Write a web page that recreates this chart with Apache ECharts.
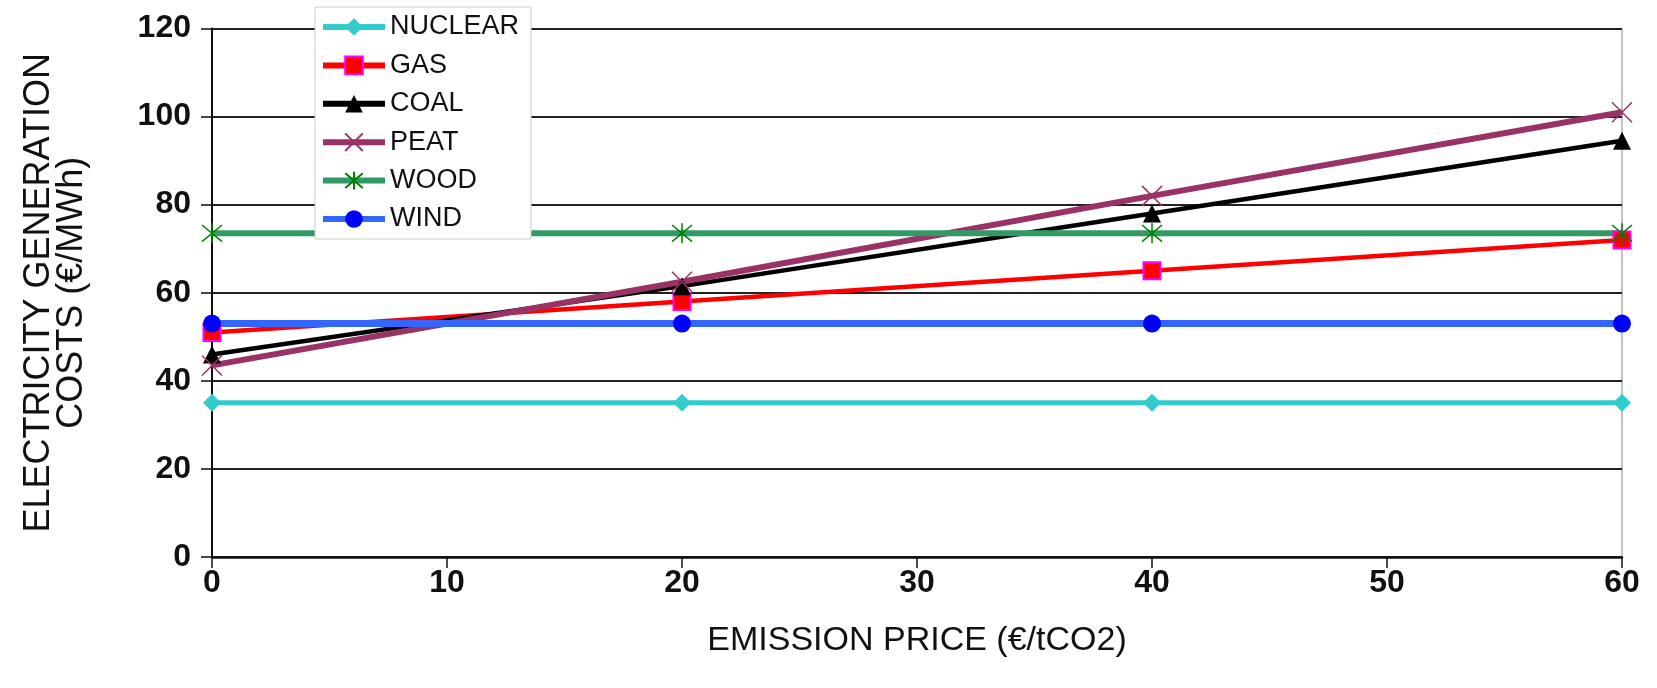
<!DOCTYPE html>
<html>
<head>
<meta charset="utf-8">
<title>Electricity generation costs</title>
<script src="https://cdn.jsdelivr.net/npm/echarts@6/dist/echarts.min.js"></script>
<style>
  html, body { margin: 0; padding: 0; background: #fff; }
  #chart { width: 1657px; height: 688px; }
</style>
</head>
<body>
<div id="chart"></div>
<script>
// emission price (€/tCO2)
var prices = [0, 20, 40, 60];
// costs (€/MWh)
var nuclear = [35, 35, 35, 35];
var gas = [51, 58, 65, 72];
var coal = [46, 61.5, 78, 94.5];
var peat = [43.5, 62.5, 82, 101];
var wood = [73.5, 73.5, 73.5, 73.5];
var wind = [53, 53, 53, 53];

var xTicks = [0, 10, 20, 30, 40, 50, 60];
var yTicks = [0, 20, 40, 60, 80, 100, 120];

var crossPath = "path://M0,0L10,10M10,0L0,10";
var starPath = "path://M0,0L10,10M10,0L0,10M5,-1L5,11";

function pairs(vals) {
  return prices.map(function (p, i) { return [p, vals[i]]; });
}

var chart = echarts.init(document.getElementById("chart"));

chart.setOption({
  animation: false,
  grid: {
    left: 212,
    right: 35,
    top: 28.5,
    bottom: 131,
    outerBoundsMode: "none",
    containLabel: false,
    show: true,
    borderColor: "#888",
    borderWidth: 1
  },
  legend: {
    orient: "vertical",
    left: 315,
    top: 7,
    itemWidth: 62,
    itemHeight: 22,
    itemGap: 11.4,
    padding: [6.5, 12, 6.5, 5],
    backgroundColor: "#fff",
    borderColor: "#ccc",
    borderWidth: 1,
    lineStyle: { width: 6 },
    textStyle: {
      fontFamily: "Liberation Sans",
      fontSize: 27,
      color: "#111"
    },
    data: ["NUCLEAR", "GAS", "COAL", "PEAT", "WOOD", "WIND"]
  },
  xAxis: {
    type: "value",
    min: xTicks[0],
    max: xTicks[xTicks.length - 1],
    interval: 10,
    name: "EMISSION PRICE (€/tCO2)",
    nameLocation: "middle",
    nameGap: 67,
    nameTextStyle: {
      fontFamily: "Liberation Sans",
      fontSize: 34,
      color: "#111"
    },
    axisLine: { lineStyle: { color: "#111", width: 2.5 } },
    axisTick: { show: true, inside: false, length: 11, lineStyle: { color: "#111", width: 1.5 } },
    axisLabel: {
      margin: 10,
      fontFamily: "Liberation Sans",
      fontWeight: "bold",
      fontSize: 32,
      color: "#111"
    },
    splitLine: { show: false }
  },
  yAxis: {
    type: "value",
    min: yTicks[0],
    max: yTicks[yTicks.length - 1],
    interval: 20,
    name: "ELECTRICITY GENERATION\nCOSTS (€/MWh)",
    nameLocation: "middle",
    nameRotate: 90,
    nameGap: 123,
    nameTextStyle: {
      fontFamily: "Liberation Sans",
      fontSize: 36,
      lineHeight: 33,
      color: "#111"
    },
    axisLine: { show: true, lineStyle: { color: "#111", width: 2 } },
    axisTick: { show: true, inside: false, length: 11, lineStyle: { color: "#111", width: 1.5 } },
    axisLabel: {
      margin: 21,
      fontFamily: "Liberation Sans",
      fontWeight: "bold",
      fontSize: 32,
      color: "#111"
    },
    splitLine: { show: true, lineStyle: { color: "#222", width: 2 } }
  },
  series: [
    {
      name: "NUCLEAR",
      type: "line",
      data: pairs(nuclear),
      symbol: "diamond",
      symbolSize: 18,
      lineStyle: { color: "#33CCCC", width: 5 },
      itemStyle: { color: "#33CCCC" }
    },
    {
      name: "GAS",
      type: "line",
      data: pairs(gas),
      symbol: "rect",
      symbolSize: 17,
      lineStyle: { color: "#FF0000", width: 4.5 },
      itemStyle: { color: "#FF0000", borderColor: "#FF00FF", borderWidth: 2 }
    },
    {
      name: "COAL",
      type: "line",
      data: pairs(coal),
      symbol: "triangle",
      symbolSize: 18,
      lineStyle: { color: "#000000", width: 4.5 },
      itemStyle: { color: "#000000" }
    },
    {
      name: "PEAT",
      type: "line",
      data: pairs(peat),
      symbol: crossPath,
      symbolSize: 20,
      lineStyle: { color: "#993366", width: 6 },
      itemStyle: { color: "#993366", borderColor: "#993366", borderWidth: 1.5 }
    },
    {
      name: "WOOD",
      type: "line",
      data: pairs(wood),
      symbol: starPath,
      symbolSize: 20,
      lineStyle: { color: "#339966", width: 6 },
      itemStyle: { color: "#008000", borderColor: "#008000", borderWidth: 1.5 }
    },
    {
      name: "WIND",
      type: "line",
      data: pairs(wind),
      symbol: "circle",
      symbolSize: 18,
      lineStyle: { color: "#3366FF", width: 7 },
      itemStyle: { color: "#0000FF" }
    }
  ]
});
</script>
</body>
</html>
